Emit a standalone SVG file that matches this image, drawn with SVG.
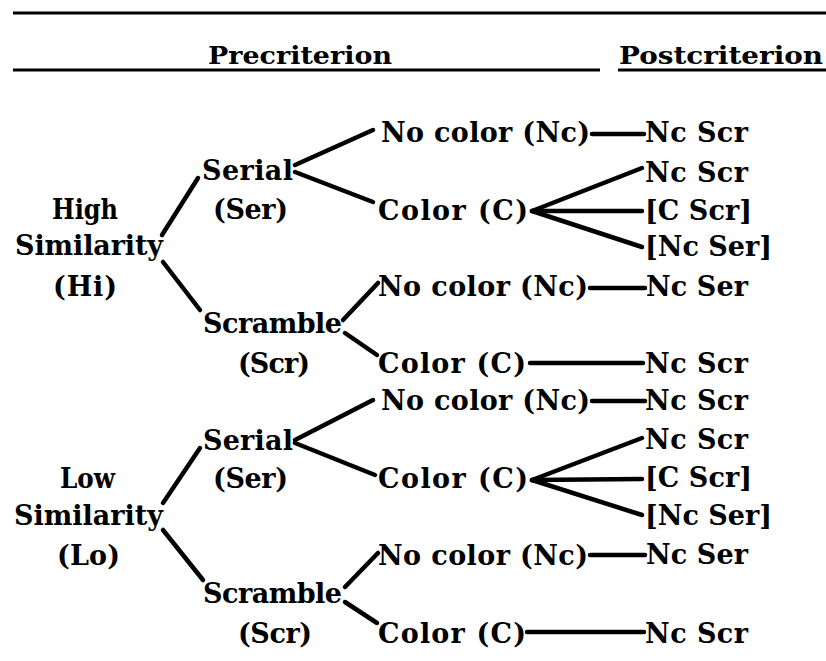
<svg xmlns="http://www.w3.org/2000/svg" width="826" height="661" viewBox="0 0 826 661">
<style>
text{font-family:"DejaVu Serif","Liberation Serif",serif;fill:#000}
.t{font-size:27px;font-weight:bold}
.h{font-size:24px;font-weight:bold}
.rule{stroke:#000;stroke-width:3;fill:none}
.c{stroke:#000;stroke-width:4.5;stroke-linecap:round;fill:none}
</style>
<rect width="826" height="661" fill="#fff"/>
<g id="rules">
<line class="rule" x1="13" y1="13" x2="826" y2="13"/>
<line class="rule" x1="13" y1="70" x2="600" y2="70"/>
<line class="rule" x1="618" y1="70" x2="826" y2="70"/>
</g>
<g id="header-pre"><text class="h" x="208" y="64" textLength="184" lengthAdjust="spacingAndGlyphs">Precriterion</text></g>
<g id="header-post"><text class="h" x="619" y="64" textLength="204" lengthAdjust="spacingAndGlyphs">Postcriterion</text></g>

<g id="connectors">
<!-- upper -->
<line class="c" x1="162" y1="235" x2="198" y2="178"/>
<line class="c" x1="163" y1="262" x2="200" y2="310"/>
<line class="c" x1="295" y1="165" x2="373" y2="130"/>
<line class="c" x1="295" y1="172" x2="373" y2="202"/>
<line class="c" x1="343" y1="320" x2="378" y2="283"/>
<line class="c" x1="345" y1="333" x2="377" y2="355"/>
<line class="c" x1="592" y1="134" x2="644" y2="134"/>
<line class="c" x1="532" y1="211" x2="642" y2="168"/>
<line class="c" x1="532" y1="211" x2="642" y2="211"/>
<line class="c" x1="532" y1="211" x2="642" y2="247"/>
<line class="c" x1="590" y1="288" x2="645" y2="288"/>
<line class="c" x1="530" y1="363" x2="643" y2="363"/>
<!-- lower -->
<line class="c" x1="163" y1="503" x2="200" y2="448"/>
<line class="c" x1="163" y1="530" x2="203" y2="580"/>
<line class="c" x1="295" y1="440" x2="373" y2="400"/>
<line class="c" x1="295" y1="443" x2="375" y2="475"/>
<line class="c" x1="345" y1="587" x2="378" y2="553"/>
<line class="c" x1="345" y1="602" x2="377" y2="623"/>
<line class="c" x1="592" y1="401" x2="645" y2="401"/>
<line class="c" x1="532" y1="480" x2="642" y2="438"/>
<line class="c" x1="532" y1="480" x2="642" y2="479"/>
<line class="c" x1="532" y1="480" x2="642" y2="515"/>
<line class="c" x1="590" y1="555" x2="645" y2="555"/>
<line class="c" x1="527" y1="632" x2="644" y2="632"/>
</g>

<!-- upper tree -->
<g id="hi"><text class="t" x="52" y="219" textLength="66" lengthAdjust="spacingAndGlyphs">High</text><text class="t" x="15" y="255" textLength="148">Similarity</text><text class="t" x="53" y="296" textLength="64">(Hi)</text></g>
<g id="hi-ser"><text class="t" x="202" y="180" textLength="91">Serial</text><text class="t" x="213" y="219" textLength="75">(Ser)</text></g>
<g id="hi-scr"><text class="t" x="203" y="333" textLength="139">Scramble</text><text class="t" x="238" y="373" textLength="72">(Scr)</text></g>
<g id="hi-ser-nc"><text class="t" x="381" y="142" textLength="209">No color (Nc)</text></g>
<g id="hi-ser-c"><text class="t" x="378" y="220" textLength="150">Color (C)</text></g>
<g id="hi-scr-nc"><text class="t" x="378" y="296" textLength="210">No color (Nc)</text></g>
<g id="hi-scr-c"><text class="t" x="378" y="373" textLength="148">Color (C)</text></g>
<g id="hi-post1"><text class="t" x="645" y="142" textLength="103">Nc Scr</text></g>
<g id="hi-post2"><text class="t" x="645" y="182" textLength="103">Nc Scr</text></g>
<g id="hi-post3"><text class="t" x="645" y="220" textLength="107">[C Scr]</text></g>
<g id="hi-post4"><text class="t" x="645" y="256" textLength="127">[Nc Ser]</text></g>
<g id="hi-post5"><text class="t" x="646" y="296" textLength="102">Nc Ser</text></g>
<g id="hi-post6"><text class="t" x="645" y="373" textLength="103">Nc Scr</text></g>

<!-- lower tree -->
<g id="lo"><text class="t" x="60" y="488" textLength="55" lengthAdjust="spacingAndGlyphs">Low</text><text class="t" x="14" y="525" textLength="149">Similarity</text><text class="t" x="57" y="565" textLength="63">(Lo)</text></g>
<g id="lo-ser"><text class="t" x="203" y="450" textLength="90">Serial</text><text class="t" x="213" y="488" textLength="75">(Ser)</text></g>
<g id="lo-scr"><text class="t" x="203" y="603" textLength="139">Scramble</text><text class="t" x="238" y="643" textLength="74">(Scr)</text></g>
<g id="lo-ser-nc"><text class="t" x="381" y="410" textLength="209">No color (Nc)</text></g>
<g id="lo-ser-c"><text class="t" x="378" y="488" textLength="150">Color (C)</text></g>
<g id="lo-scr-nc"><text class="t" x="378" y="565" textLength="210">No color (Nc)</text></g>
<g id="lo-scr-c"><text class="t" x="378" y="643" textLength="148">Color (C)</text></g>
<g id="lo-post1"><text class="t" x="645" y="410" textLength="103">Nc Scr</text></g>
<g id="lo-post2"><text class="t" x="645" y="449" textLength="103">Nc Scr</text></g>
<g id="lo-post3"><text class="t" x="645" y="487" textLength="107">[C Scr]</text></g>
<g id="lo-post4"><text class="t" x="645" y="525" textLength="127">[Nc Ser]</text></g>
<g id="lo-post5"><text class="t" x="646" y="564" textLength="102">Nc Ser</text></g>
<g id="lo-post6"><text class="t" x="645" y="643" textLength="103">Nc Scr</text></g>
</svg>
